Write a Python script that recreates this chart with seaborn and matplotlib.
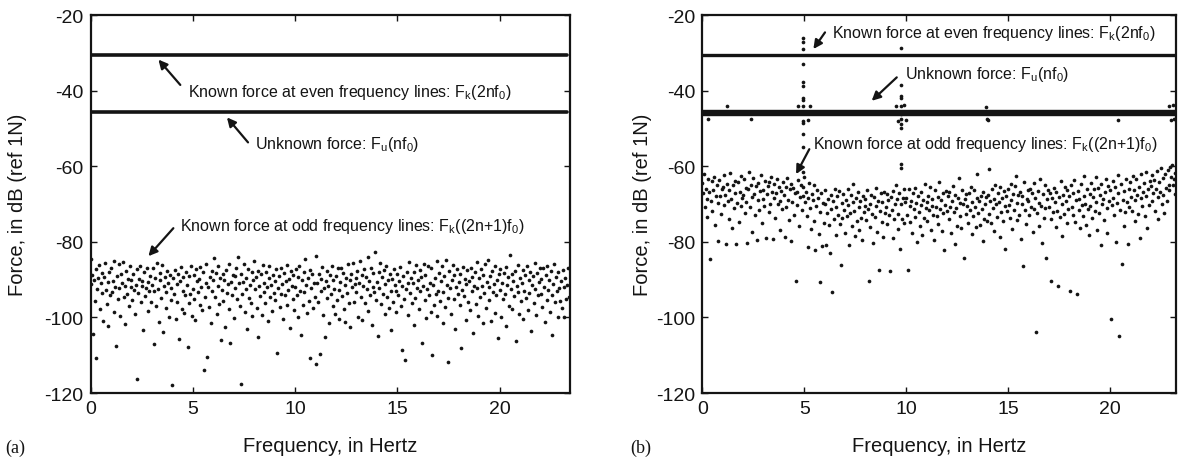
import numpy as np
import pandas as pd
import matplotlib
matplotlib.use("Agg")
import matplotlib.pyplot as plt
import seaborn as sns

# ---------------- data ----------------
df_hz = 1.0 / 24.0          # spacing of plotted frequency lines (Hz)
xmax_a = 23.44
xmax_b = 23.24

# panel (a): flat lines
even_level_a = -30.6
unknown_level_a = -45.7
line_end_a = 23.3

# panel (a): known force at odd frequency lines (dB), read row by row (1 Hz per row)
odd_a = [
    -84.5, -91.2, -88.9, -104.3, -90.1, -95.6, -87.3, -110.8, -92.4, -89.7, -86.1, -97.8, -91.0, -88.2, -93.5, -100.9, -89.4, -85.6, -92.8, -96.4, -90.6, -102.2, -88.0, -94.1,
    -86.8, -93.2, -90.4, -98.7, -85.2, -91.9, -107.5, -89.1, -95.0, -86.0, -92.3, -99.6, -88.5, -90.9, -85.4, -94.7, -91.6, -101.8, -87.7, -93.9, -89.8, -97.1, -86.5, -92.0,
    -90.2, -95.3, -88.6, -92.7, -99.2, -91.4, -87.2, -116.2, -93.6, -89.9, -86.4, -96.0, -91.8, -90.3, -103.4, -88.1, -94.4, -92.1, -86.9, -98.3, -90.7, -93.0, -89.0, -95.8,
    -91.3, -87.0, -107.1, -93.1, -89.5, -96.9, -85.7, -92.6, -101.2, -90.0, -88.3, -94.9, -86.2, -103.9, -91.7, -89.2, -97.5, -93.4, -87.6, -90.8, -99.9, -88.7, -92.2, -95.4,
    -117.8, -89.6, -93.8, -87.4, -100.3, -91.1, -95.9, -88.4, -105.7, -90.5, -86.6, -97.7, -92.9, -89.3, -98.8, -94.2, -87.9, -91.5, -107.8, -96.2, -89.0, -93.7, -86.3, -99.5,
    -92.5, -88.8, -95.2, -100.7, -87.1, -90.4, -93.3, -89.8, -96.7, -86.7, -91.9, -98.1, -88.0, -113.9, -94.6, -90.9, -85.9, -110.6, -92.0, -97.3, -89.4, -101.6, -87.8, -93.0,
    -90.2, -84.3, -94.5, -88.2, -99.0, -91.6, -86.4, -96.5, -89.7, -106.1, -92.8, -88.6, -95.7, -90.0, -102.5, -87.5, -93.6, -91.2, -97.9, -85.8, -106.8, -90.7, -94.0, -88.9,
    -100.1, -89.1, -92.3, -86.9, -95.1, -84.1, -91.0, -97.0, -88.5, -117.6, -93.9, -90.6, -86.0, -98.6, -92.4, -89.6, -103.2, -87.3, -94.8, -91.4, -96.3, -88.1, -99.7, -90.1,
    -85.0, -92.6, -89.2, -97.4, -87.6, -105.3, -91.8, -94.3, -88.4, -99.3, -86.2, -93.2, -90.8, -96.1, -87.9, -92.0, -101.0, -89.5, -86.5, -94.6, -91.3, -98.4, -88.7, -93.5,
    -90.3, -95.5, -87.1, -109.5, -92.2, -89.0, -97.2, -86.8, -93.8, -91.1, -100.5, -88.3, -94.0, -90.5, -86.1, -96.6, -92.7, -89.9, -102.8, -87.7, -91.6, -95.0, -88.8, -98.0,
    -91.9, -87.2, -94.1, -89.3, -100.0, -86.4, -92.9, -104.6, -90.2, -96.8, -88.0, -93.4, -84.6, -91.5, -98.9, -89.6, -95.6, -87.4, -110.8, -92.3, -88.6, -97.6, -90.9, -94.5,
    -83.8, -112.3, -91.0, -96.0, -88.4, -109.6, -93.1, -89.8, -86.6, -99.4, -92.1, -105.1, -90.4, -94.9, -87.8, -91.7, -101.5, -88.9, -93.7, -86.3, -97.1, -90.0, -92.5, -99.0,
    -89.1, -95.3, -87.0, -92.8, -100.4, -90.6, -86.8, -94.4, -88.2, -97.9, -91.4, -101.2, -89.5, -93.6, -86.0, -96.3, -90.1, -102.6, -88.6, -92.0, -85.5, -95.9, -91.2, -89.7,
    -93.2, -87.6, -99.8, -90.8, -85.1, -94.7, -88.9, -100.6, -91.6, -87.3, -96.1, -89.4, -92.6, -84.0, -98.2, -90.3, -94.1, -86.9, -101.9, -91.9, -88.3, -93.3, -82.7, -95.4,
    -90.7, -104.8, -88.0, -92.2, -85.6, -96.5, -89.2, -93.9, -87.5, -99.1, -91.1, -86.4, -94.6, -90.0, -97.4, -88.6, -92.9, -103.3, -89.8, -95.8, -87.1, -91.4, -98.6, -93.0,
    -88.4, -94.2, -90.5, -86.7, -97.0, -91.8, -108.6, -89.0, -95.1, -111.3, -92.4, -87.9, -99.3, -90.9, -85.3, -93.5, -89.6, -96.2, -91.0, -102.0, -88.1, -94.8, -86.2, -92.1,
    -90.2, -97.7, -87.4, -93.1, -89.3, -106.8, -91.7, -85.8, -95.5, -88.7, -100.2, -92.6, -86.5, -94.0, -90.8, -98.5, -87.0, -109.9, -91.3, -96.6, -89.5, -93.7, -85.2, -99.7,
    -92.9, -88.2, -95.7, -90.4, -86.3, -101.4, -93.4, -89.1, -97.3, -84.8, -91.5, -94.9, -111.8, -87.7, -92.3, -99.0, -90.1, -86.1, -95.2, -88.8, -103.1, -91.9, -87.2, -93.8,
    -90.6, -96.8, -88.5, -108.1, -92.7, -86.6, -94.3, -89.9, -100.8, -91.2, -87.5, -95.9, -90.3, -98.1, -86.9, -93.0, -89.4, -104.0, -91.6, -88.0, -96.4, -85.4, -92.2, -99.6,
    -89.7, -94.6, -87.3, -91.8, -101.6, -88.9, -93.6, -86.0, -97.5, -90.7, -84.9, -95.3, -92.0, -89.0, -100.9, -87.8, -93.2, -91.1, -98.8, -86.4, -94.1, -90.0, -105.5, -88.4,
    -92.8, -87.1, -99.9, -90.9, -95.0, -88.3, -93.9, -86.7, -102.4, -91.4, -89.2, -96.9, -83.4, -92.5, -88.6, -97.8, -90.4, -94.4, -87.6, -106.2, -91.7, -86.2, -93.3, -99.2,
    -89.5, -95.6, -91.0, -87.4, -100.3, -92.9, -88.7, -94.8, -86.5, -98.0, -90.2, -93.5, -87.9, -103.7, -91.5, -89.1, -96.1, -85.7, -92.4, -99.4, -88.2, -94.2, -90.6, -86.8,
    -93.7, -89.9, -97.2, -87.0, -91.9, -101.1, -88.8, -95.3, -86.3, -92.7, -90.1, -98.7, -87.7, -94.0, -104.6, -91.2, -85.9, -96.0, -89.3, -93.1, -100.0, -88.0, -92.1, -95.7,
    -90.5, -97.5, -87.5, -99.8, -92.0, -89.6, -95.1, -91.3, -86.9, -94.5,
]

# panel (b): flat-ish lines
even_level_b = -30.6
unknown_level_b = -45.8
line_end_b = 23.2

# panel (b): known force at odd frequency lines (dB)
odd_b = [
    -64.5, -67.2, -62.1, -70.8, -65.9, -68.6, -73.4, -63.3, -66.7, -84.6, -69.1, -64.0, -71.9, -66.2, -62.8, -75.5, -67.9, -65.1, -69.8, -79.9, -63.7, -68.0, -72.6, -66.0,
    -65.4, -70.2, -62.4, -67.5, -80.7, -64.6, -69.3, -73.9, -66.4, -61.8, -68.8, -76.3, -65.0, -71.1, -63.9, -67.0, -80.6, -69.7, -64.2, -74.7, -66.9, -62.6, -70.5, -68.3,
    -67.7, -63.5, -72.3, -65.7, -69.4, -80.3, -66.1, -61.5, -70.9, -64.9, -77.4, -68.2, -63.0, -67.4, -73.0, -65.2, -79.5, -69.0, -64.4, -71.5, -66.6, -62.3, -75.1, -68.7,
    -66.3, -70.4, -63.8, -78.9, -67.3, -65.3, -72.0, -64.1, -69.9, -62.9, -66.8, -79.2, -68.4, -64.8, -73.7, -67.1, -63.4, -70.1, -65.6, -77.0, -69.2, -66.5, -71.3, -64.3,
    -67.6, -78.6, -65.5, -70.7, -63.1, -68.9, -74.2, -66.0, -64.7, -79.8, -69.6, -65.8, -72.8, -67.2, -90.5, -66.9, -70.3, -63.6, -75.8, -68.1, -64.9, -71.7, -67.8, -65.4,
    -62.8, -69.5, -66.7, -73.3, -81.5, -68.5, -64.5, -71.0, -76.6, -67.4, -69.0, -65.1, -74.4, -82.2, -70.6, -66.4, -68.3, -77.9, -90.6, -72.2, -67.0, -81.0, -69.8, -74.9,
    -70.0, -66.2, -80.9, -72.5, -68.7, -75.6, -83.0, -67.5, -71.4, -93.3, -69.3, -74.0, -65.9, -70.9, -78.1, -68.0, -72.9, -66.6, -75.2, -86.1, -69.7, -73.6, -67.3, -71.6,
    -77.7, -68.9, -73.1, -66.1, -70.2, -80.8, -72.4, -67.7, -75.9, -69.4, -64.8, -71.8, -78.5, -68.4, -74.6, -66.9, -70.8, -76.9, -69.1, -73.8, -79.6, -67.9, -72.1, -70.5,
    -68.6, -74.3, -66.3, -71.2, -90.5, -69.9, -76.2, -67.6, -72.7, -80.4, -68.2, -73.5, -65.7, -70.4, -77.3, -69.2, -87.5, -71.9, -67.1, -74.8, -69.6, -78.8, -66.8, -72.3,
    -70.7, -67.4, -75.4, -69.0, -73.0, -87.7, -68.1, -71.5, -79.0, -66.5, -74.1, -70.1, -65.0, -68.8, -76.5, -72.6, -67.2, -81.8, -70.0, -73.9, -68.5, -66.0, -75.0, -69.5,
    -68.3, -72.9, -87.5, -66.0, -70.6, -74.7, -69.1, -77.8, -67.0, -71.3, -73.4, -65.8, -69.8, -80.1, -68.0, -72.0, -75.7, -66.7, -70.3, -78.3, -68.9, -73.7, -64.6, -71.1,
    -69.4, -74.5, -67.8, -71.7, -65.5, -76.8, -70.5, -68.6, -72.8, -79.4, -66.3, -70.9, -73.2, -68.2, -75.3, -64.3, -71.4, -69.0, -77.1, -67.1, -72.5, -82.3, -70.2, -66.6,
    -71.8, -68.0, -74.1, -66.9, -70.7, -77.6, -69.3, -65.2, -72.2, -80.6, -67.7, -71.0, -75.9, -68.5, -63.0, -73.3, -69.7, -76.4, -66.4, -70.1, -84.2, -68.8, -72.7, -67.4,
    -70.4, -74.9, -67.2, -71.6, -65.6, -78.0, -69.6, -73.1, -66.2, -70.8, -76.0, -68.4, -62.0, -72.4, -69.1, -75.6, -67.9, -71.2, -79.7, -66.7, -73.9, -69.9, -68.1, -74.4,
    -67.5, -72.6, -60.8, -69.2, -75.1, -66.0, -71.1, -68.7, -77.2, -64.9, -70.0, -73.5, -67.0, -69.5, -78.6, -65.4, -72.0, -68.3, -74.6, -66.5, -70.6, -82.0, -67.8, -71.9,
    -66.1, -70.3, -73.8, -64.7, -68.9, -76.7, -67.3, -71.5, -65.3, -62.6, -69.7, -74.2, -67.6, -72.9, -66.8, -79.3, -70.1, -68.0, -86.4, -64.2, -71.7, -75.3, -68.6, -66.4,
    -69.2, -73.0, -65.9, -70.8, -67.1, -77.4, -71.3, -64.5, -68.4, -103.9, -72.3, -66.6, -75.8, -69.8, -63.5, -70.4, -80.2, -67.4, -73.6, -65.0, -71.0, -84.3, -68.8, -66.2,
    -70.9, -67.0, -74.0, -90.4, -68.5, -72.1, -65.7, -69.6, -76.1, -66.9, -71.8, -91.8, -68.2, -73.4, -64.0, -70.0, -78.4, -67.5, -72.6, -65.5, -69.3, -75.0, -66.3, -71.4,
    -68.0, -93.0, -65.1, -70.7, -72.9, -67.2, -63.7, -74.8, -69.0, -93.9, -66.5, -71.6, -68.7, -76.4, -64.8, -70.2, -73.1, -67.8, -62.5, -69.9, -75.5, -66.0, -71.2, -78.1,
    -67.3, -70.5, -64.4, -73.7, -68.1, -66.1, -71.8, -62.9, -69.4, -76.9, -65.8, -72.3, -67.6, -80.8, -64.6, -70.0, -68.6, -74.3, -66.7, -63.4, -71.1, -77.7, -65.2, -69.1,
    -66.2, -100.4, -70.3, -63.9, -68.3, -73.0, -65.6, -80.0, -69.7, -62.2, -67.0, -104.8, -71.5, -64.7, -86.0, -68.9, -75.7, -66.5, -72.2, -63.3, -69.5, -80.5, -65.9, -70.8,
    -64.1, -68.1, -71.9, -62.7, -66.4, -74.6, -69.0, -63.5, -67.7, -72.7, -65.4, -79.1, -68.5, -62.0, -70.6, -66.9, -64.5, -73.2, -68.0, -61.6, -76.3, -66.0, -70.2, -63.8,
    -65.3, -62.4, -69.3, -67.1, -63.6, -71.8, -65.9, -61.2, -68.2, -74.0, -64.2, -66.8, -60.6, -70.0, -63.0, -67.5, -72.5, -62.1, -65.7, -69.1, -61.0, -64.9, -66.4, -60.2,
    -62.8, -59.6, -65.1, -63.3, -67.3, -61.7,
]

# panel (b): leakage spikes around 5 Hz and 9.8 Hz
spike_x = [4.95] * 14 + [9.77] * 11
spike_y = [-26.2, -27.2, -29.0, -33.0, -37.8, -38.9, -41.9, -42.5, -44.0, -48.0, -48.6, -51.5, -55.0, -61.5,
           -28.7, -38.5, -41.4, -41.9, -44.0, -46.2, -47.5, -48.9, -49.8, -59.5, -60.4]

# panel (b): stray points around the unknown-force band
band_x = [0.3, 1.2, 2.4, 4.7, 5.2, 5.3, 9.5, 9.6, 9.9, 10.0, 13.9, 13.95, 14.0, 20.4, 22.9, 23.0, 23.1, 23.15]
band_y = [-47.6, -44.2, -47.4, -44.0, -47.7, -44.2, -44.1, -48.1, -43.7, -47.8, -44.3, -47.5, -47.9, -47.9, -44.1, -47.8, -43.8, -47.4]

# ---------------- plotting ----------------
sns.set_theme(style="ticks")
plt.rcParams["font.family"] = ["Liberation Sans", "DejaVu Sans"]
plt.rcParams["mathtext.default"] = "regular"
plt.rcParams["axes.unicode_minus"] = False
plt.rcParams["xtick.direction"] = "in"
plt.rcParams["ytick.direction"] = "in"

W, H = 1182, 460
fig = plt.figure(figsize=(W / 100, H / 100), dpi=100)

ax_a = fig.add_axes([90.5 / W, 1 - 394 / H, 479.5 / W, 378 / H])
ax_b = fig.add_axes([702.3 / W, 1 - 394 / H, 473.7 / W, 378 / H])

ink = "#141414"

df_a = pd.DataFrame({"f": np.arange(len(odd_a)) * df_hz, "dB": odd_a})
df_b = pd.DataFrame({"f": np.arange(len(odd_b)) * df_hz, "dB": odd_b})

# (a)
sns.lineplot(x=[0, line_end_a], y=[even_level_a, even_level_a], ax=ax_a, color=ink, lw=2.6)
sns.lineplot(x=[0, line_end_a], y=[unknown_level_a, unknown_level_a], ax=ax_a, color=ink, lw=2.6)
sns.scatterplot(data=df_a, x="f", y="dB", ax=ax_a, s=7, color=ink, linewidth=0)

# (b)
sns.lineplot(x=[0, line_end_b], y=[even_level_b, even_level_b], ax=ax_b, color=ink, lw=2.4)
sns.lineplot(x=[0, line_end_b], y=[unknown_level_b, unknown_level_b], ax=ax_b, color=ink, lw=4.6)
sns.scatterplot(x=band_x, y=band_y, ax=ax_b, s=7, color=ink, linewidth=0)
sns.scatterplot(x=spike_x, y=spike_y, ax=ax_b, s=7, color=ink, linewidth=0)
sns.scatterplot(data=df_b, x="f", y="dB", ax=ax_b, s=7, color=ink, linewidth=0)

for ax, xm in ((ax_a, xmax_a), (ax_b, xmax_b)):
    ax.set_xlim(0, xm)
    ax.set_ylim(-120, -20)
    ax.set_xticks([0, 5, 10, 15, 20])
    ax.set_yticks([-120, -100, -80, -60, -40, -20])
    ax.tick_params(axis="both", which="both", direction="in", top=True, right=True,
                   length=4, width=1.0, labelsize=14, pad=5, color=ink, labelcolor=ink)
    for sp in ax.spines.values():
        sp.set_visible(True)
        sp.set_linewidth(1.6)
        sp.set_color(ink)
    ax.set_xlabel("Frequency, in Hertz", fontsize=14.5, color=ink)
    ax.set_ylabel("Force, in dB (ref 1N)", fontsize=14.5, color=ink)
    ax.xaxis.label.set_va("center")
    ax.yaxis.label.set_va("center")

ax_a.xaxis.set_label_coords(0.5, -0.139)
ax_a.yaxis.set_label_coords(-0.153, 0.5)
ax_b.xaxis.set_label_coords(0.5, -0.139)
ax_b.yaxis.set_label_coords(-0.127, 0.5)

arrow = dict(arrowstyle="-|>", color=ink, lw=1.6, mutation_scale=13, shrinkA=0, shrinkB=0)
fs_ann = 11.5

# (a) annotations
ax_a.annotate("", xy=(3.32, -31.8), xytext=(4.39, -38.5), arrowprops=arrow)
ax_a.text(4.75, -40.2, "Known force at even frequency lines: F$_k$(2nf$_0$)", fontsize=fs_ann, va="center", color=ink)
ax_a.annotate("", xy=(6.67, -47.1), xytext=(7.7, -53.7), arrowprops=arrow)
ax_a.text(8.06, -53.9, "Unknown force: F$_u$(nf$_0$)", fontsize=fs_ann, va="center", color=ink)
ax_a.annotate("", xy=(2.83, -83.8), xytext=(4.05, -76.4), arrowprops=arrow)
ax_a.text(4.39, -75.8, "Known force at odd frequency lines: F$_k$((2n+1)f$_0$)", fontsize=fs_ann, va="center", color=ink)

# (b) annotations
ax_b.annotate("", xy=(5.45, -29.0), xytext=(6.02, -24.6), arrowprops=arrow)
ax_b.text(6.35, -24.6, "Known force at even frequency lines: F$_k$(2nf$_0$)", fontsize=fs_ann, va="center", color=ink)
ax_b.annotate("", xy=(8.31, -42.7), xytext=(9.54, -36.5), arrowprops=arrow)
ax_b.text(9.94, -35.6, "Unknown force: F$_u$(nf$_0$)", fontsize=fs_ann, va="center", color=ink)
ax_b.annotate("", xy=(4.6, -62.1), xytext=(5.25, -55.5), arrowprops=arrow)
ax_b.text(5.45, -53.9, "Known force at odd frequency lines: F$_k$((2n+1)f$_0$)", fontsize=fs_ann, va="center", color=ink)

fig.text(5 / W, 1 - 448 / H, "(a)", family=["Liberation Serif", "DejaVu Serif"], fontsize=13, va="center", color=ink)
fig.text(630 / W, 1 - 448 / H, "(b)", family=["Liberation Serif", "DejaVu Serif"], fontsize=13, va="center", color=ink)

fig.savefig("out.png", dpi=100)
